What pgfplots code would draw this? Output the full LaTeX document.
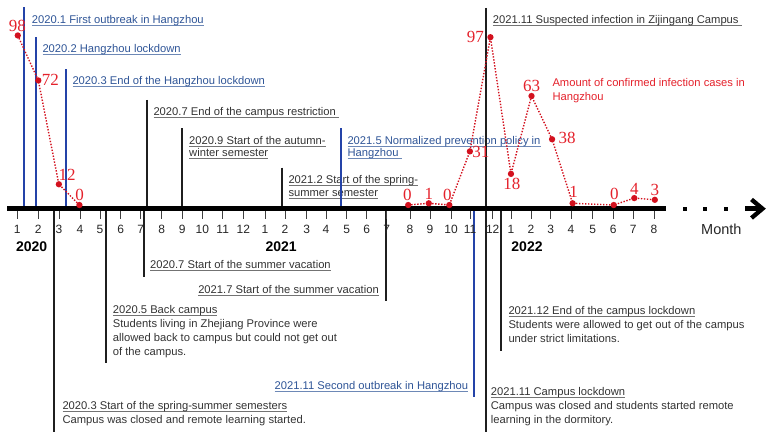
\documentclass[border=0pt]{standalone}
\usepackage{fontspec}
\setmainfont{Liberation Sans}
\newfontfamily\numfont{Liberation Serif}
\usepackage{pgfplots}
\pgfplotsset{compat=1.18}

\definecolor{hzblue}{HTML}{2F5597}
\definecolor{hzline}{HTML}{2443A8}
\definecolor{campus}{HTML}{333333}
\definecolor{casered}{HTML}{E4212B}
\definecolor{dotred}{HTML}{D3111E}

% underlined title line, rule in a lighter tone of the text colour
\newcommand\ul[2][black!55]{\setbox0\hbox{#2}\rlap{\textcolor{#1}{\rule[-2.2pt]{\wd0}{0.7pt}}}\box0}

\tikzset{
  ev/.style={anchor=base west, inner sep=0pt, font=\fontsize{11.2}{13}\selectfont, text=campus},
  evb/.style={ev, text=hzblue},
  kl/.style={draw=black!88, line width=1.7pt},
  bl/.style={draw=hzline, line width=1.7pt},
}

\pgfplotsset{
  cases/.style={dotred, line width=1.4pt, dash pattern=on 1.4pt off 1.6pt,
    mark=*, mark size=2.4pt, mark options={solid, fill=dotred},
    nodes near coords, point meta=explicit symbolic,
    visualization depends on={\thisrow{dx} \as \dx},
    visualization depends on={\thisrow{dy} \as \dy},
    every node near coord/.append style={anchor=center, inner sep=0pt,
      xshift=\dx pt, yshift=\dy pt, text=casered,
      font=\numfont\fontsize{17}{17}\selectfont}},
}

\begin{document}
\begin{tikzpicture}
% annotation layer, 1pt = 1px of the reference, y downwards
\begin{scope}[x=1pt,y=-1pt,shift={(0pt,436pt)}]
  % events above the timeline
  \draw[bl] (24.3,7.3)--(24.3,208);
  \node[evb] at (31.7,24) {\ul[hzblue!70]{2020.1 First outbreak in Hangzhou}};
  \draw[bl] (35.7,37.3)--(35.7,208);
  \node[evb] at (42.3,52.7) {\ul[hzblue!70]{2020.2 Hangzhou lockdown}};
  \draw[bl] (65.7,69.3)--(65.7,208);
  \node[evb] at (72.3,84.7) {\ul[hzblue!70]{2020.3 End of the Hangzhou lockdown}};
  \draw[kl] (147,100)--(147,208);
  \node[ev] at (153.3,115.3) {\ul{2020.7 End of the campus restriction\ }};
  \draw[kl] (182,128.3)--(182,208);
  \node[ev] at (189,144.3) {\ul{2020.9 Start of the autumn-}};
  \node[ev] at (189,156.7) {\ul{winter semester}};
  \draw[kl] (282,167.7)--(282,208);
  \node[ev] at (288.3,183.3) {\ul{2021.2 Start of the spring-}};
  \node[ev] at (288.3,196.7) {\ul{summer semester}};
  \draw[bl] (340.7,128.3)--(340.7,208);
  \node[evb] at (347.3,144.3) {\ul[hzblue!70]{2021.5 Normalized prevention policy in}};
  \node[evb] at (347.3,156.7) {\ul[hzblue!70]{Hangzhou\ }};
  \draw[kl] (486,8)--(486,432);
  \node[ev] at (492.7,23.3) {\ul{2021.11 Suspected infection in Zijingang Campus\ }};
  \node[ev, text=casered] at (552.3,87) {Amount of confirmed infection cases in};
  \node[ev, text=casered] at (552.3,100.3) {Hangzhou};

  % events below the timeline
  \draw[kl] (54.3,208)--(54.3,431.7);
  \node[ev] at (62.3,409.3) {\ul{2020.3 Start of the spring-summer semesters}};
  \node[ev] at (62.3,424) {Campus was closed and remote learning started.};
  \draw[kl] (106,208)--(106,363.3);
  \node[ev] at (112.7,313.3) {\ul{2020.5 Back campus}};
  \node[ev] at (112.7,327.3) {Students living in Zhejiang Province were};
  \node[ev] at (112.7,341.5) {allowed back to campus but could not get out};
  \node[ev] at (112.7,355.7) {of the campus.};
  \draw[kl] (144,208)--(144,276.7);
  \node[ev] at (150,268.3) {\ul{2020.7 Start of the summer vacation}};
  \draw[kl] (386,208)--(386,300.7);
  \node[ev, anchor=base east] at (379,293.3) {\ul{2021.7 Start of the summer vacation}};
  \draw[bl] (474,208)--(474,396.7);
  \node[evb, anchor=base east] at (468.3,389.3) {\ul[hzblue!70]{2021.11 Second outbreak in Hangzhou}};
  \node[ev] at (490.7,396) {\ul{2021.11 Campus lockdown}};
  \node[ev] at (490.7,410) {Campus was closed and students started remote};
  \node[ev] at (490.7,424) {learning in the dormitory.};
  \draw[kl] (500.7,208)--(500.7,350.7);
  \node[ev] at (508.3,315) {\ul{2021.12 End of the campus lockdown}};
  \node[ev] at (508.3,329) {Students were allowed to get out of the campus};
  \node[ev] at (508.3,342.7) {under strict limitations.};

  % timeline
  \draw[line width=4.5pt] (7.3,208.7)--(666,208.7);
  \foreach \x in {684.7,705.3,726} \fill (\x-2,206.7) rectangle (\x+2,210.7);
  \draw[line width=4.5pt] (745,208.7)--(759,208.7);
  \draw[line width=4.3pt] (751.5,199.5)--(762.5,208.7)--(751.5,218);
  \foreach \x/\l in {17.3/1,38.3/2,59/3,80/4,100/5,120.7/6,140.7/7,161.7/8,
      182.3/9,202.3/10,222.7/11,243.3/12,
      265/1,285/2,306.7/3,326/4,346.7/5,366.7/6,386.7/7,410/8,430/9,451/10,470/11,492.7/12,
      511/1,531/2,550.7/3,571/4,592.7/5,613.3/6,633.3/7,654/8} {
    \draw[black!75, line width=0.8pt] (\x,211)--(\x,219.5);
    \node[anchor=base, inner sep=0pt, font=\fontsize{12}{12}\selectfont, text=black!85] at (\x,233.3) {\l};
  }
  \node[anchor=base, inner sep=0pt, font=\bfseries\fontsize{14}{14}\selectfont] at (31.7,251.7) {2020};
  \node[anchor=base, inner sep=0pt, font=\bfseries\fontsize{14}{14}\selectfont] at (281.2,251.7) {2021};
  \node[anchor=base, inner sep=0pt, font=\bfseries\fontsize{14}{14}\selectfont] at (527,251.7) {2022};
  \node[anchor=base west, inner sep=0pt, font=\fontsize{14.5}{14.5}\selectfont, text=black!85] at (701,234.3) {Month};
\end{scope}

% monthly confirmed cases in Hangzhou, month 1 = 2020.1
\begin{axis}[at={(0pt,0pt)}, anchor=south west, width=769pt, height=436pt,
  scale only axis, hide axis, clip=false,
  xmin=0.135, xmax=37.556, ymin=-133.5, ymax=118.5]
\addplot[cases] table[meta=lbl] {
x  y  dx   dy   lbl
1  98 -0.5 9.3  98
2  72 12   0.7  72
3  12 8.3  9.5  12
4  0  0.2  10.5 0
};
\addplot[cases] table[meta=lbl] {
x  y  dx   dy    lbl
20 0  -0.8 10.3  0
21 1  0    9.3   1
22 0  -2   10.3  0
23 31 11   -0.6  31
24 97 -15  0     97
25 18 1    -10.5 18
26 63 0    10.2  63
27 38 15   1     38
28 1  1    11.3  1
30 0  0.7  11.5  0
31 4  0    9.5   4
32 3  0    9.5   3
};
\end{axis}
\pgfresetboundingbox
\useasboundingbox (0,0) rectangle (769pt,436pt);
\end{tikzpicture}
\end{document}
